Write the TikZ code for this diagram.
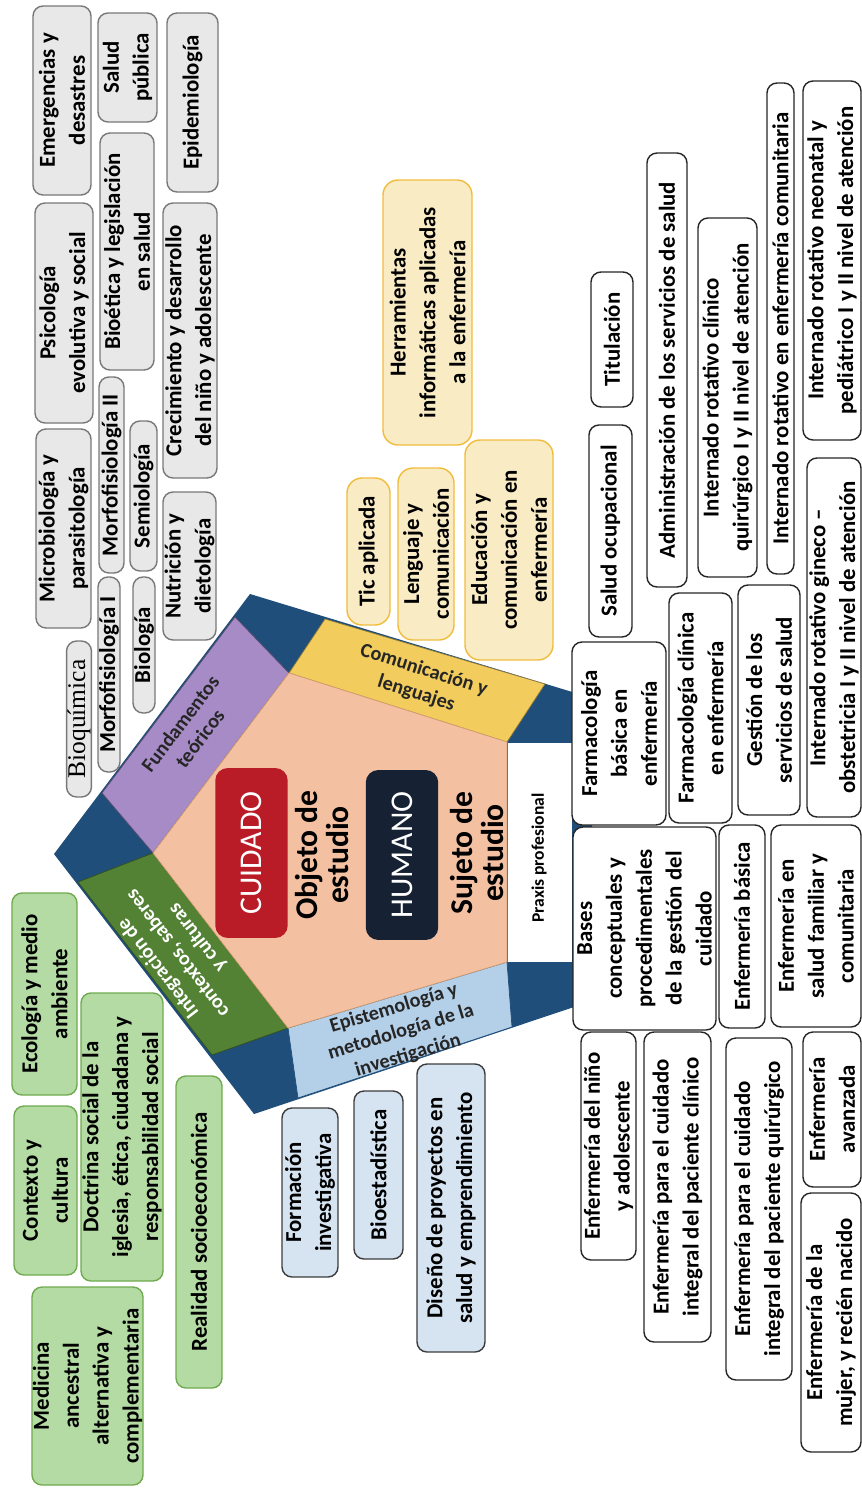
\documentclass[tikz,border=0pt]{standalone}
\usepackage{fontspec}
\setmainfont{Carlito}
\newfontfamily\serifbq{Liberation Serif}
\usetikzlibrary{positioning}
\definecolor{azulO}{RGB}{30,78,121}
\definecolor{lila}{RGB}{166,139,198}
\definecolor{oro}{RGB}{242,205,94}
\definecolor{celeste}{RGB}{180,207,232}
\definecolor{verdeO}{RGB}{84,130,53}
\definecolor{durazno}{RGB}{243,192,162}
\definecolor{rojoC}{RGB}{185,28,38}
\definecolor{navyH}{RGB}{22,34,52}
\definecolor{grisF}{RGB}{232,232,232}
\definecolor{grisB}{RGB}{120,120,120}
\definecolor{amF}{RGB}{249,235,196}
\definecolor{amB}{RGB}{240,188,60}
\definecolor{vdF}{RGB}{180,219,163}
\definecolor{vdB}{RGB}{112,170,80}
\definecolor{azF}{RGB}{214,228,242}
\definecolor{azB}{RGB}{60,60,60}
\tikzset{
  caja/.style={draw,rotate=90,align=center,inner sep=0.5pt,line width=0.8pt,
               rounded corners=2mm,font=\bfseries\fontsize{13}{17}\selectfont},
  gris/.style={caja,fill=grisF,draw=grisB},
  amar/.style={caja,fill=amF,draw=amB,rounded corners=3mm},
  verde/.style={caja,fill=vdF,draw=vdB},
  celes/.style={caja,fill=azF,draw=azB},
  blanca/.style={caja,fill=white,draw=black!85},
  tam/.style 2 args={minimum width=#1cm,minimum height=#2cm},
  banda/.style={font=\bfseries\fontsize{11.5}{14}\selectfont,align=center,text=black!85},
  centro/.style={rotate=90,align=center,font=\bfseries\fontsize{18}{18}\selectfont},
  eje/.style={rotate=90,rounded corners=2.5mm,text=white,minimum width=3.4cm,
              minimum height=1.45cm,font=\fontsize{18}{18}\selectfont},
}
\begin{document}
\begin{tikzpicture}[x=0.02cm,y=-0.02cm]
  \useasboundingbox (0,0) rectangle (862,1488);
  % pentagon corners (inner and outer)
  \coordinate (iL) at (153,853);  \coordinate (iT) at (289,673);
  \coordinate (iTR) at (507,742); \coordinate (iBR) at (507,962);
  \coordinate (iB) at (288,1028);
  \coordinate (oL) at (54,854);   \coordinate (oT) at (250,594);
  \coordinate (oTR) at (592,698); \coordinate (oBR) at (592,1001);
  \coordinate (oB) at (254,1114);
  \fill[azulO] (oL) -- (oT) -- (oTR) -- (oBR) -- (oB) -- cycle;
  % the five bands
  \filldraw[fill=lila,draw=lila!55!black,thin] (iL) -- (iT) -- (235,617) -- (102,793) -- cycle;
  \filldraw[fill=oro,draw=oro!60!black,thin] (iT) -- (iTR) -- (545,684) -- (325,619) -- cycle;
  \filldraw[fill=white,draw=azulO,thin] (iTR) -- (iBR) -- (572,962) -- (572,742) -- cycle;
  \filldraw[fill=celeste,draw=azulO,thin] (iBR) -- (iB) -- (298,1098) -- (512,1027) -- cycle;
  \filldraw[fill=verdeO,draw=verdeO!60!black,thin] (iB) -- (iL) -- (78,882) -- (212,1055) -- cycle;
  \filldraw[fill=durazno,draw=durazno!50!brown,thin] (iL) -- (iT) -- (iTR) -- (iBR) -- (iB) -- cycle;
  % band labels
  \node[banda,rotate=52.9] (fund) at (190,731) {Fundamentos\\teóricos};
  \node[banda,rotate=-17.6] (comu) at (420,682) {Comunicación y\\lenguajes};
  \node[banda,rotate=16.8] (epis) at (401,1032) {Epistemología y\\metodología de la\\investigación};
  \node[banda,rotate=127.6,text=white] (integ) at (178,953) {Integración de\\contextos, saberes\\y culturas};
  \node[rotate=90,font=\bfseries\fontsize{10}{12}\selectfont] (praxis) at (539,858) {Praxis profesional};
  % core
  \node[eje,fill=rojoC] (cuidado) at (251.5,853) {CUIDADO};
  \node[centro] (objeto) at (322,855) {Objeto de\\estudio};
  \node[eje,fill=navyH] (humano) at (402,855) {HUMANO};
  \node[centro] (sujeto) at (477,853) {Sujeto de\\estudio};
  % fundamentos (grey)
  \foreach \n/\xa/\ya/\xb/\yb/\t in {
      emerg/33/6/91/195/{Emergencias y\\desastres},
      salud/98/13/157/122/{Salud\\pública},
      epid/167/13/218/192/{Epidemiología},
      psico/35/203/93/423/{Psicología\\evolutiva y social},
      bioet/100/133/154/370/{Bioética y legislación\\en salud},
      crec/163/203/217/478/{Crecimiento y desarrollo\\del niño y adolescente},
      morfoii/99/377/124/573/{Morfofisiología II},
      semio/130/421/157/571/{Semiología},
      micro/36/429/91/628/{Microbiología y\\parasitología},
      nutri/163/492/216/640/{Nutrición y\\dietología},
      morfoi/98/577/120/772/{Morfofisiología I},
      biol/133/577/155/713/{Biología}}{
    \pgfmathsetmacro\lw{(\yb-\ya)*0.02}
    \pgfmathsetmacro\lh{(\xb-\xa)*0.02}
    \node[gris,tam={\lw}{\lh}] (\n) at ({(\xa+\xb)/2},{(\ya+\yb)/2}) {\t};
  }
  \node[gris,tam={3.12}{0.44},font=\serifbq\fontsize{14.5}{15}\selectfont] (bioq) at (79,719) {Bioquímica};
  % comunicacion (yellow)
  \foreach \n/\xa/\ya/\xb/\yb/\t in {
      herr/383/180/472/445/{Herramientas\\informáticas aplicadas\\a la enfermería},
      tic/347/478/390/625/{Tic aplicada},
      leng/398/468/454/640/{Lenguaje y\\comunicación},
      educ/465/440/553/660/{Educación y\\comunicación en\\enfermería}}{
    \pgfmathsetmacro\lw{(\yb-\ya)*0.02}
    \pgfmathsetmacro\lh{(\xb-\xa)*0.02}
    \node[amar,tam={\lw}{\lh}] (\n) at ({(\xa+\xb)/2},{(\ya+\yb)/2}) {\t};
  }
  % contextos (green)
  \foreach \n/\xa/\ya/\xb/\yb/\t in {
      ecol/12/893/77/1095/{Ecología y medio\\ambiente},
      contx/14/1106/77/1275/{Contexto y\\cultura},
      doct/81/993/163/1281/{Doctrina social de la\\iglesia, ética, ciudadana y\\responsabilidad social},
      medic/32/1287/143/1485/{Medicina\\ancestral\\alternativa y\\complementaria},
      real/176/1076/222/1388/{Realidad socioeconómica}}{
    \pgfmathsetmacro\lw{(\yb-\ya)*0.02}
    \pgfmathsetmacro\lh{(\xb-\xa)*0.02}
    \node[verde,tam={\lw}{\lh}] (\n) at ({(\xa+\xb)/2},{(\ya+\yb)/2}) {\t};
  }
  % investigacion (light blue)
  \foreach \n/\xa/\ya/\xb/\yb/\t in {
      form/282/1108/338/1277/{Formación\\investigativa},
      bioes/354/1091/403/1259/{Bioestadística},
      dise/417/1064/485/1352/{Diseño de proyectos en\\salud y emprendimiento}}{
    \pgfmathsetmacro\lw{(\yb-\ya)*0.02}
    \pgfmathsetmacro\lh{(\xb-\xa)*0.02}
    \node[celes,tam={\lw}{\lh}] (\n) at ({(\xa+\xb)/2},{(\ya+\yb)/2}) {\t};
  }
  % praxis profesional (white)
  \foreach \n/\xa/\ya/\xb/\yb/\t in {
      tit/591/272/633/407/{Titulación},
      socup/589/425/632/637/{Salud ocupacional},
      admin/647/153/687/587/{Administración de los servicios de salud},
      intq/698/218/757/577/{Internado rotativo clínico\\quirúrgico I y II nivel de atención},
      intc/767/83/794/574/{Internado rotativo en enfermería comunitaria},
      intn/803/81/861/440/{Internado rotativo neonatal y\\pediátrico I y II nivel de atención},
      intg/807/458/861/817/{Internado rotativo gineco –\\obstetricia I y II nivel de atención},
      farb/572/642/666/825/{Farmacología\\básica en\\enfermería},
      farc/669/593/732/823/{Farmacología clínica\\en enfermería},
      gest/738/585/800/815/{Gestión de los\\servicios de salud},
      bases/573/827/716/1030/{Bases\\conceptuales y\\procedimentales\\de la gestión del\\cuidado},
      enfb/719/825/765/1028/{Enfermería básica},
      enfsf/771/825/861/1027/{Enfermería en\\salud familiar y\\comunitaria},
      enfn/581/1032/636/1260/{Enfermería del niño\\y adolescente},
      enfcl/644/1032/711/1342/{Enfermería para el cuidado\\integral del paciente clínico},
      enfq/726/1038/792/1380/{Enfermería para el cuidado\\integral del paciente quirúrgico},
      enfav/803/1032/861/1187/{Enfermería\\avanzada},
      enfm/801/1193/861/1452/{Enfermería de la\\mujer, y recién nacido}}{
    \pgfmathsetmacro\lw{(\yb-\ya)*0.02}
    \pgfmathsetmacro\lh{(\xb-\xa)*0.02}
    \node[blanca,tam={\lw}{\lh}] (\n) at ({(\xa+\xb)/2},{(\ya+\yb)/2}) {\t};
  }
\end{tikzpicture}
\end{document}
